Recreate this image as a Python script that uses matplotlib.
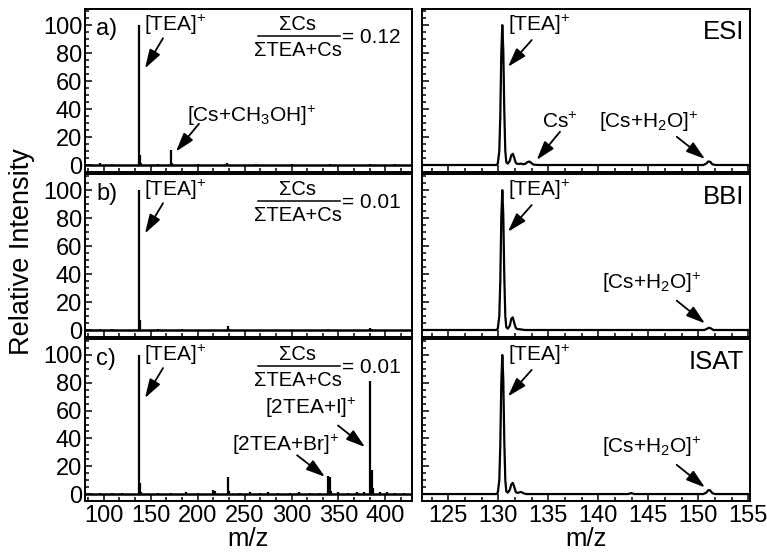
import matplotlib
matplotlib.use("Agg")
import matplotlib.pyplot as plt
from matplotlib.ticker import MultipleLocator

plt.rcParams['font.family'] = ['Liberation Sans', 'DejaVu Sans']
plt.rcParams['mathtext.fontset'] = 'custom'
plt.rcParams['mathtext.rm'] = 'Liberation Sans'
plt.rcParams['mathtext.it'] = 'Liberation Sans'

# ---------------- data: left column (stick spectra, m/z vs intensity) -------------
wide_mz_a = [96, 109, 138, 139, 140, 158, 171.5, 173, 200, 231, 262, 300, 341, 384, 410]
wide_int_a = [1.2, 1.0, 100, 7, 1.5, 0.8, 11, 1.5, 0.6, 1.2, 0.5, 0.5, 0.6, 0.8, 0.5]

wide_mz_b = [96, 109, 138, 139, 158, 183.5, 232.4, 234, 339, 383.5, 386]
wide_int_b = [0.6, 0.5, 100, 7, 0.6, 1.0, 3, 1.0, 0.6, 1.5, 1.0]

wide_mz_c = [96, 109, 120, 138, 139, 140, 158, 172, 188, 200, 216.5, 219, 232.4, 234, 245,
             256, 266, 275, 286, 298, 308, 320, 330, 338.8, 339.8, 340.8, 342, 350,
             360, 370, 377, 383.5, 385.5, 387, 394, 402, 410, 420]
wide_int_c = [1.0, 1.0, 0.8, 100, 8, 1.5, 1.0, 1.0, 1.2, 1.0, 3, 2, 12, 2, 1.0,
              1.5, 1.0, 1.2, 1.0, 1.0, 1.3, 1.0, 1.0, 13, 5, 12, 2, 1.3,
              1.0, 1.2, 1.5, 81, 17, 4, 1.5, 1.2, 1.0, 0.8]

# ---------------- data: right column (profile spectra) -------------
narrow_mz_esi = [122.4, 129.8, 129.95, 130.1, 130.2, 130.3, 130.4, 130.5, 130.6, 130.7,
                 130.8, 130.95, 131.15, 131.3, 131.45, 131.6, 131.75, 131.9, 132.1,
                 132.3, 132.45, 132.7, 132.9, 133.1, 133.3, 133.5, 134.0, 150.5,
                 150.8, 151.0, 151.2, 151.4, 151.7, 155.3]
narrow_int_esi = [0, 0, 1, 10, 35, 80, 100, 82, 38, 10,
                  2, 1, 3, 7, 8, 5, 1.5, 0.8, 0.8,
                  1.0, 0.6, 0.8, 2.0, 2.5, 1.5, 0.3, 0, 0,
                  1.0, 2.5, 2.3, 0.5, 0, 0]

narrow_mz_bbi = [122.4, 129.8, 129.95, 130.1, 130.2, 130.3, 130.4, 130.5, 130.6, 130.7,
                 130.8, 130.95, 131.15, 131.3, 131.45, 131.6, 131.75, 131.9, 132.2,
                 132.6, 150.6, 150.85, 151.05, 151.25, 151.5, 155.3]
narrow_int_bbi = [0, 0, 1, 10, 35, 80, 100, 82, 38, 10,
                  2, 1, 3, 8, 9, 5, 1.5, 0.6, 0.5,
                  0, 0, 0.8, 1.6, 1.2, 0, 0]

narrow_mz_isat = [122.4, 129.8, 129.95, 130.1, 130.2, 130.3, 130.4, 130.5, 130.6, 130.7,
                  130.8, 130.95, 131.15, 131.3, 131.45, 131.6, 131.75, 131.9, 132.1,
                  132.3, 132.5, 132.8, 143.0, 143.3, 143.6, 150.5, 150.8, 151.0,
                  151.2, 151.4, 151.7, 155.3]
narrow_int_isat = [0, 0, 1, 10, 35, 80, 100, 82, 38, 10,
                   2, 1, 3, 7, 8, 5, 1.5, 0.8, 1.2,
                   1.5, 0.6, 0, 0, 0.7, 0, 0, 1.0, 2.8,
                   2.6, 0.6, 0, 0]

left_xticks = [100, 150, 200, 250, 300, 350, 400]
right_xticks = [125, 130, 135, 140, 145, 150, 155]
yticks = [0, 20, 40, 60, 80, 100]
panel_letters = ['a)', 'b)', 'c)']
ratios = ['0.12', '0.01', '0.01']
methods = ['ESI', 'BBI', 'ISAT']

# ---------------- layout -------------
W, H = 767, 556
fig = plt.figure(figsize=(W / 100, H / 100), dpi=100)

rows_px = [(9, 172), (174, 337), (339, 501)]
left_px = (85, 412)
right_px = (422, 750)

def px_axes(xr, yr):
    return fig.add_axes([xr[0] / W, 1 - yr[1] / H, (xr[1] - xr[0]) / W, (yr[1] - yr[0]) / H])

YLIM = (-5, 111.5)
LW_SPINE = 1.4
YTICK_FS = 17
XTICK_FS = 17
ANN_FS = 15
FRAC_FS = 14.5
NARROW = ['Liberation Sans Narrow', 'Liberation Sans']

def style(ax, xlim, major, show_xlabels, show_ylabels):
    ax.set_xlim(*xlim)
    ax.set_ylim(*YLIM)
    for s in ax.spines.values():
        s.set_linewidth(LW_SPINE)
    ax.xaxis.set_major_locator(MultipleLocator(major))
    ax.xaxis.set_minor_locator(MultipleLocator(major / 3))
    ax.set_yticks(yticks)
    ax.yaxis.set_minor_locator(MultipleLocator(5))
    ax.tick_params(which='both', direction='in', top=False, right=False, width=1.1)
    ax.tick_params(which='major', length=5)
    ax.tick_params(which='minor', length=2.8)
    ax.tick_params(axis='y', labelsize=YTICK_FS, pad=2)
    ax.tick_params(axis='x', labelsize=XTICK_FS, pad=3)
    if not show_xlabels:
        ax.tick_params(axis='x', labelbottom=False)
    if not show_ylabels:
        ax.tick_params(axis='y', labelleft=False)

def arrow(ax, head, tail):
    ax.annotate('', xy=head, xytext=tail,
                arrowprops=dict(arrowstyle='-|>,head_length=1.15,head_width=0.36',
                                mutation_scale=10, color='black', lw=1.3,
                                shrinkA=0, shrinkB=0))

wide_data = [(wide_mz_a, wide_int_a), (wide_mz_b, wide_int_b), (wide_mz_c, wide_int_c)]
narrow_data = [(narrow_mz_esi, narrow_int_esi), (narrow_mz_bbi, narrow_int_bbi),
               (narrow_mz_isat, narrow_int_isat)]

for i in range(3):
    axl = px_axes(left_px, rows_px[i])
    axr = px_axes(right_px, rows_px[i])
    style(axl, (80.3, 428.2), 50, i == 2, True)
    style(axr, (122.37, 155.17), 5, i == 2, False)

    # left: stick spectrum with baseline
    mz, inten = wide_data[i]
    axl.axhline(0, color='black', lw=1.8, zorder=2)
    axl.vlines(mz, 0, inten, color='black', lw=1.6, zorder=3)

    # right: profile spectrum
    mz, inten = narrow_data[i]
    axr.plot(mz, inten, color='black', lw=1.6)

    # panel letters
    axl.text(0.035, 0.877, panel_letters[i], transform=axl.transAxes, fontsize=17,
             ha='left', va='center')

    # fraction
    fx = 0.651
    axl.text(fx, 0.902, 'ΣCs', transform=axl.transAxes, fontsize=FRAC_FS,
             ha='center', va='center')
    axl.text(fx, 0.745, 'ΣTEA+Cs', transform=axl.transAxes, fontsize=FRAC_FS,
             ha='center', va='center')
    axl.plot([0.529, 0.780], [0.834, 0.834], transform=axl.transAxes, color='black', lw=1.1)
    axl.text(0.785, 0.826, '= ' + ratios[i], transform=axl.transAxes, fontsize=15,
             ha='left', va='center')

    # TEA annotation, left
    axl.text(143.1, 100, '[TEA]$^{+}$', fontsize=ANN_FS, ha='left', va='center')
    arrow(axl, (144.1, 69), (163.3, 90.6))

    # right TEA annotation
    axr.text(130.97, 100, '[TEA]$^{+}$', fontsize=ANN_FS, ha='left', va='center')
    arrow(axr, (130.97, 70.2), (133.34, 89.3))

    axr.text(0.982, 0.86, methods[i], transform=axr.transAxes, fontsize=18.5,
             ha='right', va='center')

    if i == 0:
        axr.text(136.17, 31, 'Cs$^{+}$', fontsize=ANN_FS, ha='center', va='center')
        arrow(axr, (133.84, 3.6), (136.17, 23.8))
        axr.text(145.07, 31, '[Cs+H$_2$O]$^{+}$', fontsize=ANN_FS, ha='center', va='center')
        arrow(axr, (150.67, 4.3), (147.84, 20.2))
        axl.text(188.8, 35.2, '[Cs+CH$_3$OH]$^{+}$', fontsize=ANN_FS, ha='left', va='center')
        arrow(axl, (177.1, 9.6), (201.6, 29.5))
    else:
        axr.text(145.3, 33.6, '[Cs+H$_2$O]$^{+}$', fontsize=ANN_FS, ha='center', va='center')
        arrow(axr, (150.67, 4.7), (147.84, 21))

    if i == 2:
        axl.text(369.7, 62, '[2TEA+I]$^{+}$', fontsize=ANN_FS, ha='right', va='center')
        arrow(axl, (378.2, 33.8), (349.5, 49.3))
        axl.text(293.1, 35, '[2TEA+Br]$^{+}$', fontsize=ANN_FS, ha='center', va='center')
        arrow(axl, (335.6, 12.4), (305.9, 27.9))

        axl.set_xticks(left_xticks)
        axr.set_xticks(right_xticks)
        for ax in (axl, axr):
            for lab in ax.get_xticklabels():
                lab.set_family(NARROW)
            ax.set_xlabel('m/z', fontsize=18.5, labelpad=0)

fig.text(22 / W, 1 - 252 / H, 'Relative Intensity', rotation=90, fontsize=19.5,
         ha='center', va='center')

fig.savefig('out.png', dpi=100)
